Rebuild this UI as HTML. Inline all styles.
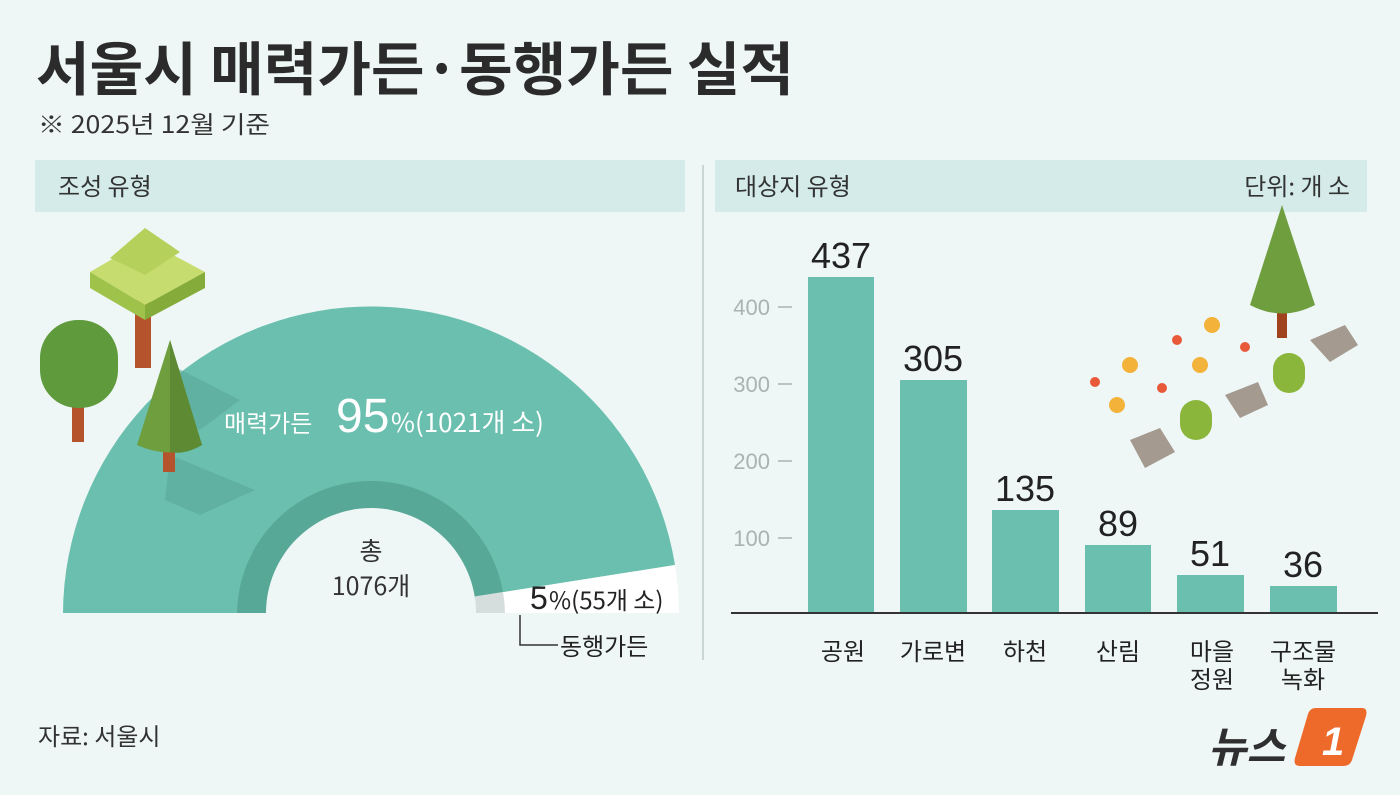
<!DOCTYPE html>
<html><head><meta charset="utf-8"><style>
body{margin:0;width:1400px;height:795px;background:#eef7f6;overflow:hidden;font-family:"Liberation Sans","Noto Sans CJK KR",sans-serif;}
</style></head><body>
<svg width="1400" height="795" xmlns="http://www.w3.org/2000/svg" style="position:absolute;left:0;top:0">
<rect width="1400" height="795" fill="#eef7f6"/>
<text x="36" y="90" font-size="58" font-weight="bold" fill="#2b2b2b" textLength="758" lengthAdjust="spacingAndGlyphs" font-family="Noto Sans CJK KR,sans-serif">서울시 매력가든·동행가든 실적</text>
<text x="38" y="133" font-size="24" fill="#333" textLength="232" lengthAdjust="spacingAndGlyphs" font-family="Noto Sans CJK KR,sans-serif">※ 2025년 12월 기준</text>
<rect x="35" y="160" width="650" height="52" fill="#d4ebea"/>
<rect x="715" y="160" width="652" height="52" fill="#d4ebea"/>
<text x="58" y="195" font-size="24" fill="#333" font-family="Noto Sans CJK KR,sans-serif">조성 유형</text>
<text x="735" y="195" font-size="24" fill="#333" font-family="Noto Sans CJK KR,sans-serif">대상지 유형</text>
<text x="1350" y="195" font-size="24" fill="#333" text-anchor="end" font-family="Noto Sans CJK KR,sans-serif">단위: 개 소</text>
<line x1="703" y1="165" x2="703" y2="660" stroke="#c9d6d5" stroke-width="2"/>
<!-- semicircle -->
<path d="M63,613 A308,308 0 0 1 675,565 L371,613 Z" fill="#6bbfae"/>
<path d="M675,565 A308,308 0 0 1 679,613 L371,613 Z" fill="#ffffff"/>
<path d="M237,613 A134,134 0 0 1 503,592 L371,613 Z" fill="#58a898"/>
<path d="M503,592 A134,134 0 0 1 505,613 L371,613 Z" fill="#d5dedd"/>
<path d="M266,613 A105,105 0 0 1 476,613 Z" fill="#eef7f6"/>
<!-- trees -->
<polygon points="165,362 240,400 200,430 160,410" fill="#58a898" opacity="0.6"/>
<polygon points="170,455 255,490 200,515 165,500" fill="#58a898" opacity="0.6"/>
<rect x="135" y="300" width="16" height="68" fill="#b5532c"/>
<polygon points="90,272 145,240 205,272 145,305" fill="#c6dc6e"/>
<polygon points="90,272 145,305 145,320 90,288" fill="#9fc24a"/>
<polygon points="205,272 145,305 145,320 205,288" fill="#85ab3a"/>
<polygon points="110,258 145,228 180,252 145,275" fill="#b6d05c"/>
<rect x="72" y="380" width="12" height="62" fill="#b5532c"/>
<rect x="40" y="320" width="78" height="88" rx="38" fill="#5f9a3c"/>
<rect x="163" y="440" width="12" height="32" fill="#b5532c"/>
<path d="M170,340 L202,445 Q170,460 137,445 Z" fill="#6e9e3e"/>
<path d="M170,340 L202,445 Q185,455 170,452 Z" fill="#5d8a33"/>
<text x="224" y="432" font-size="24" fill="#fff" font-family="Noto Sans CJK KR,sans-serif">매력가든</text>
<text x="336" y="432" font-size="48" fill="#fff" font-family="Liberation Sans,sans-serif">95</text>
<text x="391" y="432" font-size="26" fill="#fff" font-family="Noto Sans CJK KR,sans-serif">%(1021개 소)</text>
<text x="371" y="560" font-size="25" fill="#333" text-anchor="middle" font-family="Noto Sans CJK KR,sans-serif">총</text>
<text x="371" y="595" font-size="25" fill="#333" text-anchor="middle" font-family="Noto Sans CJK KR,sans-serif">1076개</text>
<text x="530" y="609" font-size="32" fill="#222" font-family="Liberation Sans,sans-serif">5</text>
<text x="549" y="609" font-size="24" fill="#222" font-family="Noto Sans CJK KR,sans-serif">%(55개 소)</text>
<polyline points="520,615 520,645 558,645" fill="none" stroke="#333" stroke-width="1.5"/>
<text x="560" y="655" font-size="24" fill="#222" font-family="Noto Sans CJK KR,sans-serif">동행가든</text>
<!-- bar chart -->
<g font-family="Liberation Sans,sans-serif" font-size="22" fill="#aab3b2" text-anchor="end">
<text x="770" y="315">400</text><text x="770" y="392">300</text><text x="770" y="469">200</text><text x="770" y="546">100</text></g>
<g stroke="#aab3b2" stroke-width="1.5"><line x1="778" y1="307" x2="792" y2="307"/><line x1="778" y1="384" x2="792" y2="384"/><line x1="778" y1="461" x2="792" y2="461"/><line x1="778" y1="538" x2="792" y2="538"/></g>
<g fill="#6bbfae">
<rect x="808" y="277" width="66" height="336"/><rect x="900" y="380" width="67" height="233"/><rect x="992" y="510" width="67" height="103"/><rect x="1085" y="545" width="66" height="68"/><rect x="1177" y="575" width="67" height="38"/><rect x="1270" y="586" width="67" height="27"/></g>
<line x1="731" y1="613" x2="1378" y2="613" stroke="#333" stroke-width="2"/>
<g font-family="Liberation Sans,sans-serif" font-size="36" fill="#222" text-anchor="middle">
<text x="841" y="268">437</text><text x="933" y="371">305</text><text x="1025" y="501">135</text><text x="1118" y="536">89</text><text x="1210" y="566">51</text><text x="1303" y="577">36</text></g>
<g font-family="Noto Sans CJK KR,sans-serif" font-size="24" fill="#222" text-anchor="middle">
<text x="843" y="660">공원</text><text x="933" y="660">가로변</text><text x="1025" y="660">하천</text><text x="1118" y="660">산림</text><text x="1212" y="660">마을</text><text x="1212" y="688">정원</text><text x="1303" y="660">구조물</text><text x="1303" y="688">녹화</text></g>
<!-- garden deco -->
<rect x="1277" y="310" width="10" height="28" fill="#a0421e"/>
<path d="M1282,205 L1315,305 Q1282,322 1250,305 Z" fill="#6e9e3e"/>
<polygon points="1310,340 1345,325 1358,345 1330,362" fill="#a49a90"/>
<polygon points="1225,395 1258,382 1268,405 1240,418" fill="#a49a90"/>
<polygon points="1130,440 1160,428 1175,452 1145,468" fill="#a49a90"/>
<rect x="1273" y="353" width="32" height="40" rx="16" fill="#8bb63c"/>
<rect x="1180" y="400" width="32" height="40" rx="16" fill="#8bb63c"/>
<g fill="#f3b33a"><circle cx="1212" cy="325" r="8"/><circle cx="1130" cy="365" r="8"/><circle cx="1200" cy="365" r="8"/><circle cx="1117" cy="405" r="8"/></g>
<g fill="#e8593a"><circle cx="1177" cy="340" r="5"/><circle cx="1245" cy="347" r="5"/><circle cx="1095" cy="382" r="5"/><circle cx="1162" cy="388" r="5"/></g>
<text x="38" y="745" font-size="24" fill="#333" font-family="Noto Sans CJK KR,sans-serif">자료: 서울시</text>
<text x="1208" y="762" font-size="42" font-weight="bold" font-style="italic" fill="#2f2f2f" font-family="Noto Sans CJK KR,sans-serif">뉴스</text>
<path d="M1312,708 L1362,708 Q1368,708 1366,716 L1352,760 Q1350,766 1343,766 L1300,766 Q1293,766 1295,758 L1308,714 Q1310,708 1316,708 Z" fill="#ee6a2a"/>
<text x="1322" y="755" font-size="40" font-weight="bold" font-style="italic" fill="#fff" font-family="Liberation Sans,sans-serif">1</text>
</svg>
</body></html>
